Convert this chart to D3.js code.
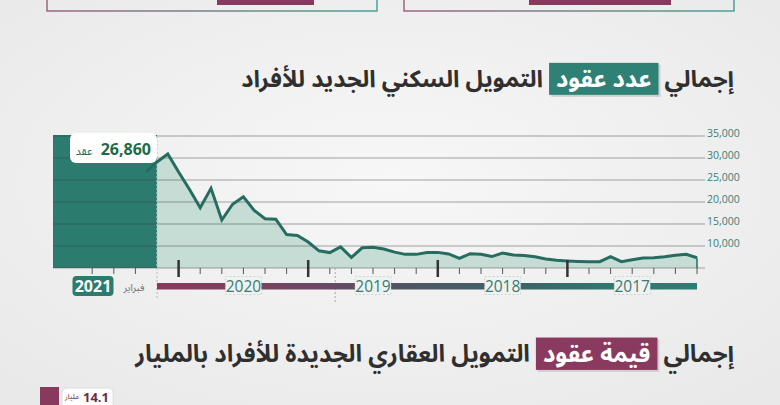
<!DOCTYPE html>
<html><head><meta charset="utf-8">
<script src="https://cdn.jsdelivr.net/npm/d3@7"></script>
<style>
html,body{margin:0;padding:0;background:#f0f0f0;overflow:hidden}
svg{display:block}
</style></head><body>
<svg id="c" width="780" height="405"></svg>
<script>
// ---- data (month index 0 = February 2021, going back in time to the right) ----
const contracts = [26860, 29100, 30900, 26800, 22900, 18700, 23100, 15900, 19500, 21200,
  18100, 16200, 16100, 12600, 12400, 10900, 8900, 8500, 9800, 7400,
  9600, 9700, 9300, 8600, 8100, 8100, 8500, 8550, 8200, 7200,
  8250, 8100, 7600, 8400, 7950, 7850, 7550, 7050, 6750, 6600,
  6500, 6430, 6430, 7600, 6430, 6890, 7270, 7340, 7550, 7890,
  8110, 7340];
const yTicks = [10000, 15000, 20000, 25000, 30000, 35000];
const yearLabels = ["2020", "2019", "2018", "2017"];
const yearCenterIdx = [9, 21, 33, 45];
const timelineTicks = d3.range(-5, 52, 2);
const majorTicks = [3, 15, 27, 39];
const latestValue = 26860;
const latestUnit = "عقد";
const latestMonth = "فبراير";
const latestYear = "2021";
const title1 = ["إجمالي", "عدد عقود", "التمويل السكني الجديد للأفراد"];
const title2 = ["إجمالي", "قيمة عقود", "التمويل العقاري الجديدة للأفراد بالمليار"];
const valueBillion = "14.1";
const billionUnit = "مليار";

const AR = "'Noto Sans Arabic','DejaVu Sans',sans-serif";
const NUM = "'Open Sans','Noto Sans',sans-serif";
const TEAL = "#2c7b6f", MAG = "#873a5d", LINE = "#276c60";

const svg = d3.select("#c");
const defs = svg.append("defs");

// background
const bg = defs.append("radialGradient").attr("id","bg").attr("cx","50%").attr("cy","45%").attr("r","70%");
bg.append("stop").attr("offset","0%").attr("stop-color","#f7f7f7");
bg.append("stop").attr("offset","100%").attr("stop-color","#e9e9e9");
svg.append("rect").attr("width",780).attr("height",405).attr("fill","url(#bg)");

// top cut-off boxes
const bgr = defs.append("linearGradient").attr("id","bord");
bgr.append("stop").attr("offset","0%").attr("stop-color","#9a5a78");
bgr.append("stop").attr("offset","100%").attr("stop-color","#3f9d92");
[[47,330,217,97],[404,330,529,142]].forEach(([bx,bw,mx,mw])=>{
  svg.append("rect").attr("x",bx).attr("y",-20).attr("width",bw).attr("height",31)
    .attr("fill","none").attr("stroke","url(#bord)").attr("stroke-width",1.4);
  svg.append("rect").attr("x",mx).attr("y",-5).attr("width",mw).attr("height",10).attr("fill",MAG);
});

// RTL title with highlighted phrase
function rtlTitle(parts, hiColor, rightX, targetW, baseline) {
  const g = svg.append("g");
  const pad = 7, gap = 6;
  let fs = 20;
  const nodes = parts.map((t,i)=> g.append("text").text(t)
      .attr("font-family",AR).attr("font-weight","bold")
      .attr("fill", i===1 ? "#fff" : "#2f2f2f")
      .attr("text-anchor","middle").attr("direction","rtl"));
  const measure = () => nodes.map(n => n.attr("font-size",fs).node().getComputedTextLength());
  let w = measure();
  let total = w[0]+w[1]+w[2]+2*pad+2*gap;
  fs = fs*targetW/total; fs = Math.min(fs, 24);
  w = measure();
  let x = rightX;
  const hRect = g.insert("rect","text");
  const hShadow = g.insert("rect","rect");
  nodes[0].attr("x", x - w[0]/2).attr("y", baseline); x -= w[0] + gap;
  const rw = w[1] + 2*pad;
  hShadow.attr("x", x-rw+2).attr("y", baseline-fs*1.02+2).attr("width", rw).attr("height", fs*1.35).attr("fill","#cfcfcf");
  hRect.attr("x", x-rw).attr("y", baseline-fs*1.02).attr("width", rw).attr("height", fs*1.35).attr("fill", hiColor);
  nodes[1].attr("x", x - rw/2).attr("y", baseline); x -= rw + gap;
  nodes[2].attr("x", x - w[2]/2).attr("y", baseline);
}
rtlTitle(title1, "#2e8174", 734, 498, 87);

// ---- chart ----
const x = d3.scaleLinear().domain([0, contracts.length-1]).range([146.2, 697]);
const y = d3.scaleLinear().domain([5000, 35000]).range([268, 136]);
const left = 53, right = 705;

svg.append("path").datum(contracts)
  .attr("d", d3.area().x((d,i)=>x(i)).y0(y(5000)).y1(d=>y(d)))
  .attr("fill","#c6ddd5");

svg.append("rect").attr("x",left).attr("y",y(35000)-1).attr("width",x(1)-left).attr("height",y(5000)-y(35000)+1)
  .attr("fill",TEAL);

// gridlines + labels
svg.append("g").selectAll("line").data([5000].concat(yTicks)).join("line")
  .attr("x1",left).attr("x2",right).attr("y1",d=>y(d)).attr("y2",d=>y(d))
  .attr("stroke","rgba(60,60,60,0.45)").attr("stroke-width",1.2);
svg.append("g").selectAll("text").data(yTicks).join("text")
  .attr("x",right+2).attr("y",d=>y(d)+1).text(d3.format(","))
  .attr("font-family",NUM).attr("font-size",10.5).attr("fill","#3b7d76");

// dashed dividers
svg.append("line").attr("x1",x(1)).attr("x2",x(1)).attr("y1",y(35000)).attr("y2",300)
  .attr("stroke","#b9c4c1").attr("stroke-width",1.2).attr("stroke-dasharray","2,2");
svg.append("line").attr("x1",x(17.5)).attr("x2",x(17.5)).attr("y1",y(5000)).attr("y2",302)
  .attr("stroke","#b5b5b5").attr("stroke-width",1.2).attr("stroke-dasharray","2,2");

// line
svg.append("path").datum(contracts)
  .attr("d", d3.line().x((d,i)=>x(i)).y(d=>y(d)))
  .attr("fill","none").attr("stroke",LINE).attr("stroke-width",3).attr("stroke-linejoin","miter");
const last = contracts.length-1;
svg.append("line").attr("x1",x(last)).attr("x2",x(last)).attr("y1",y(contracts[last])).attr("y2",y(5000))
  .attr("stroke",LINE).attr("stroke-width",1.5);

// timeline ticks
svg.append("g").selectAll("line").data(timelineTicks.filter(t=>!majorTicks.includes(t) && t!==1)).join("line")
  .attr("x1",d=>x(d)).attr("x2",d=>x(d)).attr("y1",y(5000)).attr("y2",y(5000)+6)
  .attr("stroke","#555").attr("stroke-width",1);
svg.append("g").selectAll("line").data(majorTicks).join("line")
  .attr("x1",d=>x(d)).attr("x2",d=>x(d)).attr("y1",y(5000)-8).attr("y2",y(5000)+9)
  .attr("stroke","#333").attr("stroke-width",2.5);

// latest value label
const lb = svg.append("g");
lb.append("rect").attr("x",70).attr("y",133).attr("width",87).attr("height",30).attr("rx",6).attr("fill","#fff");
lb.append("text").attr("x",151).attr("y",155).attr("text-anchor","end").text(d3.format(",")(latestValue))
  .attr("font-family",NUM).attr("font-weight","bold").attr("font-size",16).attr("fill","#1d6a49");
lb.append("text").attr("x",84).attr("y",155).attr("text-anchor","middle").text(latestUnit)
  .attr("font-family",AR).attr("font-size",11).attr("fill","#1d6a49");

// timeline bar
const tg = defs.append("linearGradient").attr("id","tl").attr("gradientUnits","userSpaceOnUse")
  .attr("x1",x(1)).attr("x2",x(last)).attr("y1",0).attr("y2",0);
[["0%","#8b385d"],["30%","#6a4862"],["48%","#4d5763"],["68%","#3c6467"],["85%","#2e7a6f"],["100%","#2c7d71"]]
  .forEach(([o,c])=>tg.append("stop").attr("offset",o).attr("stop-color",c));
svg.append("rect").attr("x",x(1)).attr("y",283).attr("width",x(last)-x(1)).attr("height",6.5).attr("fill","url(#tl)");

const yl = svg.append("g").selectAll("g").data(yearLabels).join("g")
  .attr("transform",(d,i)=>`translate(${x(yearCenterIdx[i])},286)`);
yl.append("rect").attr("x",-18).attr("y",-9.5).attr("width",36).attr("height",18)
  .attr("fill","#eef3f1").attr("stroke","#c9c9c9").attr("stroke-width",0.8).attr("stroke-dasharray","2,2");
yl.append("text").text(d=>d).attr("text-anchor","middle").attr("y",6)
  .attr("font-family",NUM).attr("font-size",15.5).attr("fill","#3a7a74");

svg.append("rect").attr("x",72.5).attr("y",276).attr("width",41).attr("height",20).attr("rx",4).attr("fill",TEAL);
svg.append("text").attr("x",93).attr("y",292).attr("text-anchor","middle").text(latestYear)
  .attr("font-family",NUM).attr("font-weight","bold").attr("font-size",16).attr("fill","#fff");
svg.append("text").attr("x",134).attr("y",291).attr("text-anchor","middle").text(latestMonth)
  .attr("font-family",AR).attr("font-size",10).attr("fill","#6f6f6f");

// second title
rtlTitle(title2, "#8a3a5e", 734, 634, 362);

// bottom cut-off value box
svg.append("rect").attr("x",40).attr("y",387).attr("width",19).attr("height",30).attr("fill",MAG);
svg.append("rect").attr("x",62).attr("y",388).attr("width",51).attr("height",30).attr("rx",5)
  .attr("fill","#fff").attr("stroke","#d8d8d8").attr("stroke-width",0.8);
svg.append("text").attr("x",109).attr("y",402).attr("text-anchor","end").text(valueBillion)
  .attr("font-family",NUM).attr("font-weight","bold").attr("font-size",13).attr("fill","#6e2a49");
svg.append("text").attr("x",72).attr("y",399).attr("text-anchor","middle").text(billionUnit)
  .attr("font-family",AR).attr("font-size",7.5).attr("fill","#6e2a49");
</script>
</body></html>
